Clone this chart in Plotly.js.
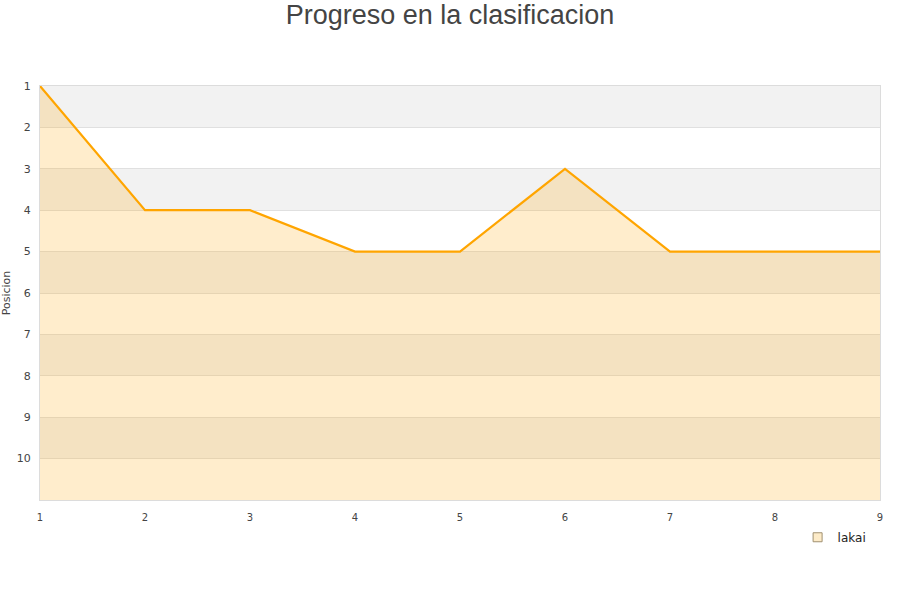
<!DOCTYPE html>
<html>
<head>
<meta charset="utf-8">
<script src="https://cdn.plot.ly/plotly-3.0.1.min.js"></script>
<style>html,body{margin:0;padding:0;background:#fff}#chart{width:900px;height:600px}</style>
</head>
<body>
<div id="chart"></div>
<script>
// Matchdays and league position of the team after each one
const jornadas = [1, 2, 3, 4, 5, 6, 7, 8, 9];
const posiciones = [1, 4, 4, 5, 5, 3, 5, 5, 5];
const equipo = 'lakai';
const posTicks = [1, 2, 3, 4, 5, 6, 7, 8, 9, 10];
const posFondo = 11; // last position shown on the axis

// Alternating horizontal bands behind the chart
const bands = [];
for (let p = 1; p < posFondo; p += 2) {
  bands.push({
    type: 'rect', xref: 'paper', yref: 'y', x0: 0, x1: 1, y0: p, y1: p + 1,
    fillcolor: '#f2f2f2', line: {width: 0}, layer: 'below'
  });
}

const base = {
  x: jornadas, y: jornadas.map(() => posFondo),
  mode: 'lines', line: {width: 0, color: 'rgba(0,0,0,0)'},
  hoverinfo: 'skip', showlegend: false
};
const linea = {
  x: jornadas, y: posiciones, mode: 'lines', name: equipo,
  line: {color: '#ffa500', width: 2.2},
  fill: 'tonexty', fillcolor: 'rgba(255,165,0,0.2)',
  showlegend: false
};
const leyenda = {
  x: [null], y: [null], mode: 'markers', name: equipo,
  marker: {symbol: 'square', size: 9, color: '#fdebc8', line: {color: '#a09070', width: 1}}
};

const layout = {
  width: 900, height: 600,
  paper_bgcolor: '#fff', plot_bgcolor: 'rgba(0,0,0,0)',
  margin: {l: 40, r: 20, t: 86, b: 100},
  title: {text: 'Progreso en la clasificacion', x: 0.5, xanchor: 'center', y: 0.975, yanchor: 'middle',
    font: {family: 'Liberation Sans, Arial, sans-serif', size: 27, color: '#444'}},
  font: {family: 'DejaVu Sans, sans-serif', size: 11, color: '#444'},
  xaxis: {
    range: [1, 9], tickvals: jornadas, showgrid: false, zeroline: false,
    showline: true, linecolor: '#dcdcdc', mirror: true,
    ticks: '', ticklabelstandoff: 8, tickfont: {size: 10}
  },
  yaxis: {
    range: [posFondo, 1], tickvals: posTicks, showgrid: true, gridcolor: '#e0e0e0',
    zeroline: false, showline: true, linecolor: '#dcdcdc', mirror: true,
    ticks: '', ticklabelstandoff: 6,
    title: {text: 'Posicion', font: {size: 11}, standoff: 4}
  },
  shapes: bands,
  showlegend: true,
  legend: {orientation: 'h', x: 0.99, xanchor: 'right', y: -0.09, yanchor: 'middle',
    itemwidth: 30, font: {size: 12, color: '#222'}, bgcolor: 'rgba(0,0,0,0)'}
};

Plotly.newPlot('chart', [base, linea, leyenda], layout, {displayModeBar: false, staticPlot: true});
</script>
</body>
</html>
